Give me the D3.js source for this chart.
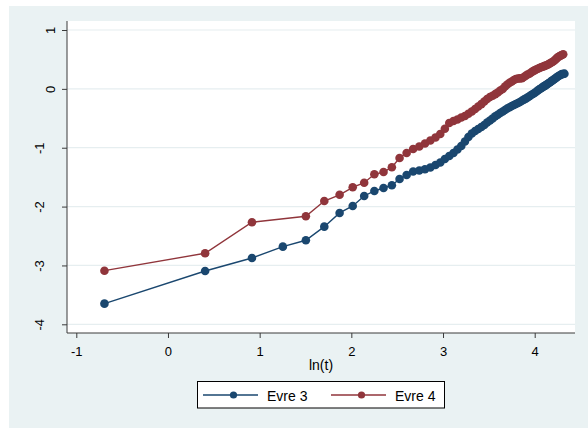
<!DOCTYPE html>
<html>
<head>
<meta charset="utf-8">
<script src="https://cdn.jsdelivr.net/npm/d3@7"></script>
<style>
  body { margin: 0; background: #ffffff; }
  svg { display: block; }
</style>
</head>
<body>
<svg id="chart" width="588" height="430"></svg>
<script>
// Log-log survival plot: ln(-ln S) against ln(t) for two stages
const xTicks = [-1, 0, 1, 2, 3, 4];
const yTicks = [-4, -3, -2, -1, 0, 1];
const xTitle = "ln(t)";
const seriesNames = ["Evre 3", "Evre 4"];

const lnT3 = [-0.693, 0.405, 0.916, 1.253, 1.504, 1.705, 1.872, 2.015, 2.140, 2.251,
  2.351, 2.442, 2.526, 2.603, 2.674, 2.741, 2.803, 2.862, 2.918, 2.970,
  3.020, 3.068, 3.114, 3.157, 3.199, 3.239, 3.277, 3.314, 3.350, 3.384,
  3.418, 3.450, 3.481, 3.512, 3.541, 3.570, 3.597, 3.624, 3.651, 3.676,
  3.701, 3.726, 3.750, 3.773, 3.795, 3.818, 3.839, 3.861, 3.882, 3.902,
  3.922, 3.942, 3.961, 3.980, 3.998, 4.016, 4.034, 4.052, 4.069, 4.086,
  4.103, 4.119, 4.135, 4.151, 4.167, 4.182, 4.197, 4.212, 4.227, 4.241,
  4.256, 4.270, 4.284, 4.297, 4.311, 4.324];
const val3 = [-3.649, -3.094, -2.873, -2.681, -2.572, -2.341, -2.108, -1.990, -1.820, -1.735,
  -1.684, -1.638, -1.531, -1.463, -1.403, -1.386, -1.366, -1.337, -1.293, -1.250,
  -1.191, -1.140, -1.089, -1.030, -0.970, -0.894, -0.817, -0.758, -0.715, -0.681,
  -0.647, -0.613, -0.571, -0.537, -0.503, -0.466, -0.440, -0.409, -0.384, -0.358,
  -0.333, -0.313, -0.291, -0.274, -0.257, -0.240, -0.223, -0.202, -0.183, -0.166,
  -0.148, -0.126, -0.104, -0.087, -0.070, -0.049, -0.027, -0.007, 0.010, 0.029,
  0.046, 0.059, 0.078, 0.095, 0.112, 0.131, 0.146, 0.163, 0.180, 0.197,
  0.214, 0.228, 0.240, 0.250, 0.253, 0.258];

const lnT4 = [-0.693, 0.405, 0.916, 1.504, 1.705, 1.872, 2.015, 2.140, 2.251,
  2.351, 2.442, 2.526, 2.603, 2.674, 2.741, 2.803, 2.862, 2.918, 2.970,
  3.020, 3.068, 3.114, 3.157, 3.199, 3.239, 3.277, 3.314, 3.350, 3.384,
  3.418, 3.450, 3.481, 3.512, 3.541, 3.570, 3.597, 3.624, 3.651, 3.676,
  3.701, 3.726, 3.750, 3.773, 3.795, 3.818, 3.839, 3.861, 3.882, 3.902,
  3.922, 3.942, 3.961, 3.980, 3.998, 4.016, 4.034, 4.052, 4.069, 4.086,
  4.103, 4.119, 4.135, 4.151, 4.167, 4.182, 4.197, 4.212, 4.227, 4.241,
  4.256, 4.270, 4.284, 4.297, 4.311];
const val4 = [-3.089, -2.793, -2.266, -2.164, -1.905, -1.800, -1.672, -1.594, -1.451,
  -1.412, -1.332, -1.174, -1.089, -1.021, -0.979, -0.928, -0.877, -0.826, -0.766,
  -0.678, -0.579, -0.545, -0.520, -0.486, -0.460, -0.423, -0.384, -0.341, -0.299,
  -0.260, -0.214, -0.172, -0.138, -0.117, -0.090, -0.061, -0.027, -0.002, 0.041,
  0.075, 0.104, 0.126, 0.151, 0.168, 0.177, 0.178, 0.180, 0.202, 0.224,
  0.245, 0.257, 0.279, 0.299, 0.314, 0.330, 0.341, 0.355, 0.367, 0.375,
  0.386, 0.396, 0.406, 0.418, 0.435, 0.447, 0.460, 0.477, 0.499, 0.522,
  0.542, 0.554, 0.566, 0.576, 0.588];

const colors = ["#1a476f", "#90353b"];

const series = [
  { name: seriesNames[0], color: colors[0], pts: lnT3.map((x, i) => ({ x, y: val3[i] })) },
  { name: seriesNames[1], color: colors[1], pts: lnT4.map((x, i) => ({ x, y: val4[i] })) }
];

const svg = d3.select("#chart");
const font = "'Liberation Sans', Arial, Helvetica, sans-serif";

// Frame geometry
const plot = { left: 67, right: 575, top: 21, bottom: 333 };

const x = d3.scaleLinear().domain([-1, 4]).range([76.3, 534.7]);
const y = d3.scaleLinear().domain([-4, 1]).range([324.3, 30]);

// Outer graph region
svg.append("rect")
  .attr("x", 9).attr("y", 6).attr("width", 579).attr("height", 422)
  .attr("fill", "#eaf2f3");

// Plot region
svg.append("rect")
  .attr("x", plot.left).attr("y", plot.top)
  .attr("width", plot.right - plot.left).attr("height", plot.bottom - plot.top)
  .attr("fill", "#ffffff");

// Horizontal grid lines
svg.append("g").selectAll("line").data(yTicks).join("line")
  .attr("x1", plot.left).attr("x2", plot.right)
  .attr("y1", d => y(d)).attr("y2", d => y(d))
  .attr("stroke", "#e6eef0").attr("stroke-width", 1.2);

// Y axis
const yAxis = svg.append("g")
  .attr("transform", `translate(${plot.left},0)`)
  .call(d3.axisLeft(y).tickValues(yTicks).tickSize(5).tickSizeOuter(0).tickFormat(d3.format("d")));
yAxis.select(".domain").attr("d", `M0,${plot.top}V${plot.bottom}`).attr("stroke", "#3a3a3a");
yAxis.selectAll(".tick line").attr("stroke", "#3a3a3a");
yAxis.selectAll(".tick text")
  .attr("font-family", font).attr("font-size", 13).attr("fill", "#000")
  .attr("text-anchor", "middle")
  .attr("x", null).attr("dy", null)
  .attr("transform", d => `translate(${d < 0 ? -23 : -12},0) rotate(-90)`)
  .text(d => d < 0 ? "-" + Math.abs(d) : String(d));

// X axis
const xAxis = svg.append("g")
  .attr("transform", `translate(0,${plot.bottom})`)
  .call(d3.axisBottom(x).tickValues(xTicks).tickSize(5).tickSizeOuter(0).tickFormat(d3.format("d")));
xAxis.select(".domain").attr("d", `M${plot.left},0H${plot.right}`).attr("stroke", "#3a3a3a");
xAxis.selectAll(".tick line").attr("stroke", "#3a3a3a");
xAxis.selectAll(".tick text")
  .attr("font-family", font).attr("font-size", 13).attr("fill", "#000")
  .attr("y", 23).attr("dy", null)
  .text(d => d < 0 ? "-" + Math.abs(d) : String(d));

// X axis title
svg.append("text")
  .attr("x", (plot.left + plot.right) / 2).attr("y", 370)
  .attr("text-anchor", "middle")
  .attr("font-family", font).attr("font-size", 14).attr("fill", "#000")
  .text(xTitle);

// Series: connected lines with filled circle markers
const line = d3.line().x(d => x(d.x)).y(d => y(d.y));
series.forEach(s => {
  const g = svg.append("g");
  g.append("path").datum(s.pts)
    .attr("d", line).attr("fill", "none")
    .attr("stroke", s.color).attr("stroke-width", 1.4);
  g.selectAll("circle").data(s.pts).join("circle")
    .attr("cx", d => x(d.x)).attr("cy", d => y(d.y))
    .attr("r", 4.3).attr("fill", s.color);
});

// Legend
const legend = svg.append("g");
legend.append("rect")
  .attr("x", 197.5).attr("y", 381.5).attr("width", 247).attr("height", 26.5)
  .attr("fill", "#ffffff").attr("stroke", "#000").attr("stroke-width", 1);
const legendItems = [
  { x0: 203, x1: 258, tx: 267 },
  { x0: 331, x1: 386, tx: 395 }
];
series.forEach((s, i) => {
  const it = legendItems[i];
  legend.append("line")
    .attr("x1", it.x0).attr("x2", it.x1).attr("y1", 395).attr("y2", 395)
    .attr("stroke", s.color).attr("stroke-width", 1.4);
  legend.append("circle")
    .attr("cx", (it.x0 + it.x1) / 2 + 3).attr("cy", 395).attr("r", 3.6)
    .attr("fill", s.color);
  legend.append("text")
    .attr("x", it.tx).attr("y", 400.5)
    .attr("font-family", font).attr("font-size", 14).attr("fill", "#000")
    .text(s.name);
});
</script>
</body>
</html>
